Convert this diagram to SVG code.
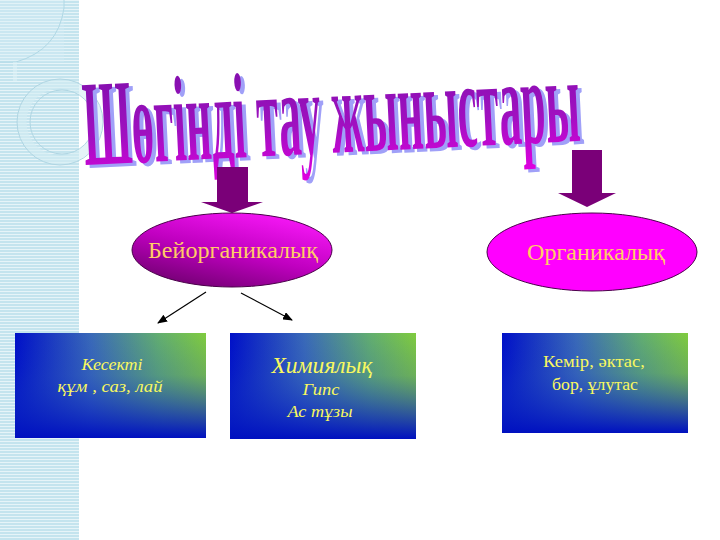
<svg xmlns="http://www.w3.org/2000/svg" width="720" height="540" viewBox="0 0 720 540">
<defs>
  <pattern id="lines" width="6" height="3" patternUnits="userSpaceOnUse">
    <rect width="6" height="3" fill="#c4e4ee"/>
    <rect y="0" width="6" height="1" fill="#e6f4f8"/>
  </pattern>
  <linearGradient id="titleFill" x1="0" y1="0" x2="0" y2="1">
    <stop offset="0" stop-color="#7a10a8"/>
    <stop offset="0.6" stop-color="#a010c0"/>
    <stop offset="1" stop-color="#e000e0"/>
  </linearGradient>
  <linearGradient id="ellL" x1="0.15" y1="1" x2="0.75" y2="0">
    <stop offset="0" stop-color="#6a006a"/>
    <stop offset="0.5" stop-color="#c000c0"/>
    <stop offset="1" stop-color="#f818f8"/>
  </linearGradient>
  <linearGradient id="boxH" x1="0" y1="0" x2="1" y2="0">
    <stop offset="0" stop-color="#0010c8"/>
    <stop offset="0.4" stop-color="#3a6ab8"/>
    <stop offset="0.75" stop-color="#62ae70"/>
    <stop offset="1" stop-color="#80cc3e"/>
  </linearGradient>
  <linearGradient id="boxV" x1="0" y1="0" x2="0" y2="1">
    <stop offset="0" stop-color="#1030c8" stop-opacity="0"/>
    <stop offset="0.4" stop-color="#1a40c0" stop-opacity="0.2"/>
    <stop offset="1" stop-color="#0010c0" stop-opacity="1"/>
  </linearGradient>
  <marker id="ah" markerWidth="10" markerHeight="8" refX="9" refY="4" orient="auto" markerUnits="userSpaceOnUse">
    <path d="M0,0 L10,4 L0,8 Z" fill="#000"/>
  </marker>
  <style>
    .title { font-family: "Liberation Serif", serif; font-weight: bold; font-size: 46px; }
    .ellText { font-family: "Liberation Serif", serif; font-size: 23px; fill: #ffcc66; text-anchor: middle; }
    .boxText { font-family: "Liberation Serif", serif; font-size: 17px; fill: #f8f860; text-anchor: middle; }
    .it { font-style: italic; }
    .blockArrow { fill: #7a0078; }
    .conn { stroke: #000; stroke-width: 1.2; fill: none; marker-end: url(#ah); }
  </style>
</defs>

<rect width="720" height="540" fill="#ffffff"/>

<!-- left decorative strip -->
<g id="strip">
  <rect x="0" y="0" width="79" height="540" fill="url(#lines)"/>
  <rect x="0" y="0" width="64" height="62" fill="#d6eef5" opacity="0.35"/>
  <path d="M64,0 L64,8 Q58,50 16,62 L0,62" fill="none" stroke="#b0d8e5" stroke-width="1"/>
  <rect x="13" y="62" width="4" height="20" fill="#e2f3f8" opacity="0.5"/>
  <circle cx="60" cy="122" r="38" fill="none" stroke="#d4edf4" stroke-width="9" opacity="0.6"/>
  <circle cx="60" cy="122" r="43" fill="none" stroke="#b0d6e3" stroke-width="1"/>
  <circle cx="62" cy="122" r="32" fill="none" stroke="#b0d6e3" stroke-width="1"/>
</g>

<!-- title -->
<g id="title">
  <text class="title" x="0" y="0" textLength="497" lengthAdjust="spacingAndGlyphs" fill="#a0a0f8" transform="translate(89,168) rotate(-2.8) scale(1,2.65)">Шөгінді тау жыныстары</text>
  <text class="title" x="0" y="0" textLength="497" lengthAdjust="spacingAndGlyphs" fill="url(#titleFill)" transform="translate(85,165) rotate(-2.8) scale(1,2.65)">Шөгінді тау жыныстары</text>
</g>

<!-- block arrows -->
<g id="arrowLeft">
  <path class="blockArrow" d="M217,167 L248,167 L248,202 L263,202 L232,213 L201,202 L217,202 Z"/>
</g>
<g id="arrowRight">
  <path class="blockArrow" d="M572,150 L602,150 L602,193 L616,193 L587,207 L558,193 L572,193 Z"/>
</g>

<!-- ellipses -->
<g id="inorganic">
  <ellipse cx="232" cy="250" rx="100" ry="37" fill="url(#ellL)" stroke="#4a004a" stroke-width="1"/>
  <text class="ellText" x="233" y="258" textLength="170" lengthAdjust="spacingAndGlyphs">Бейорганикалық</text>
</g>
<g id="organic">
  <ellipse cx="592" cy="252" rx="105" ry="39" fill="#ff00ff" stroke="#4a004a" stroke-width="1"/>
  <text class="ellText" x="596" y="260" textLength="138" lengthAdjust="spacingAndGlyphs">Органикалық</text>
</g>

<!-- connectors -->
<g id="connectors">
  <line class="conn" x1="206" y1="292" x2="158" y2="323"/>
  <line class="conn" x1="241" y1="293" x2="292" y2="320"/>
</g>

<!-- boxes -->
<g id="clastic">
  <rect x="15" y="333" width="191" height="105" fill="url(#boxH)"/>
  <rect x="15" y="333" width="191" height="105" fill="url(#boxV)"/>
  <text class="boxText it" x="112" y="370" textLength="61" lengthAdjust="spacingAndGlyphs">Кесекті</text>
  <text class="boxText it" x="110" y="392" textLength="105" lengthAdjust="spacingAndGlyphs">құм , саз, лай</text>
</g>
<g id="chemical">
  <rect x="230" y="333" width="186" height="106" fill="url(#boxH)"/>
  <rect x="230" y="333" width="186" height="106" fill="url(#boxV)"/>
  <text class="boxText it" x="322" y="373" style="font-size:23px" textLength="101" lengthAdjust="spacingAndGlyphs">Химиялық</text>
  <text class="boxText it" x="321" y="395" textLength="37" lengthAdjust="spacingAndGlyphs">Гипс</text>
  <text class="boxText it" x="320" y="417" textLength="65" lengthAdjust="spacingAndGlyphs">Ас тұзы</text>
</g>
<g id="organicRocks">
  <rect x="502" y="333" width="186" height="100" fill="url(#boxH)"/>
  <rect x="502" y="333" width="186" height="100" fill="url(#boxV)"/>
  <text class="boxText" x="594" y="367" textLength="102" lengthAdjust="spacingAndGlyphs">Кемір, әктас,</text>
  <text class="boxText" x="595" y="390" textLength="86" lengthAdjust="spacingAndGlyphs">бор, ұлутас</text>
</g>
</svg>
